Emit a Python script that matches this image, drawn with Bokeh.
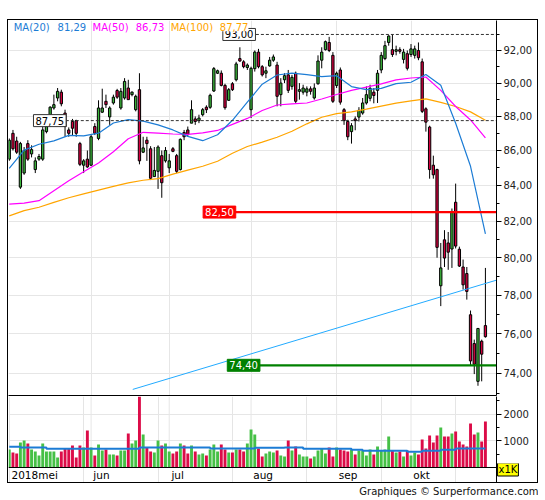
import numpy as np
import pandas as pd
from bokeh.plotting import figure
from bokeh.models import Range1d, FixedTicker, Label, Span, Spacer, ColumnDataSource
from bokeh.layouts import column, row
from bokeh.embed import file_html
from bokeh.resources import INLINE
from bokeh.core.properties import value

# ---------------- data ----------------
dates = pd.bdate_range("2018-05-02", "2018-10-29")
month_labels = ["2018mei", "jun", "jul", "aug", "sep", "okt"]

open_ = [85.5, 87.0, 86.55, 83.9, 84.7, 86.4, 85.8, 84.9, 85.5, 85.5,
         87.1, 88.1, 88.5, 89.1, 89.45, 88.2, 87.2, 87.7, 87.75, 86.4,
         85.15, 85.5, 85.15, 87.4, 86.7, 88.25, 88.9, 87.97, 88.8, 89.55,
         88.5, 89.1, 89.7, 89.3, 88.4, 89.6, 85.9, 86.6, 86.1, 84.5,
         84.8, 85.7, 85.4, 85.0, 86.1, 85.7, 84.9, 87.05, 87.2, 87.6,
         87.85, 87.75, 88.1, 88.55, 88.54, 89.52, 90.6, 90.6, 89.86, 88.96,
         89.96, 90.2, 91.5, 91.3, 90.95, 88.4, 90.88, 91.9, 91.0, 90.6,
         91.05, 91.4, 91.1, 89.3, 90.2, 90.5, 89.8, 90.6, 89.5, 89.45,
         89.45, 89.65, 89.1, 89.96, 91.4, 92.05, 92.5, 91.7, 89.85, 90.8,
         88.4, 87.7, 87.1, 87.85, 87.96, 88.2, 88.8, 89.08, 89.45, 89.56,
         90.8, 91.5, 92.5, 92.05, 91.95, 92.05, 91.45, 91.8, 91.75, 91.7,
         92.0, 91.3, 88.45, 87.37, 85.15, 84.9, 78.5, 80.97, 80.8, 80.47,
         83.05, 80.46, 79.5, 79.15, 76.98, 75.5, 73.6, 75.62, 76.42]
high = [86.7, 87.2, 86.8, 86.5, 86.2, 86.6, 86.3, 85.6, 85.8, 87.4,
        87.96, 88.6, 89.3, 89.7, 89.6, 88.4, 87.35, 87.85, 87.8, 86.5,
        85.5, 86.0, 86.9, 87.6, 88.96, 89.66, 89.3, 88.6, 89.3, 89.65,
        89.7, 90.3, 90.2, 89.5, 89.3, 90.6, 86.8, 86.8, 86.25, 86.2,
        86.3, 86.0, 86.2, 85.8, 86.2, 85.8, 86.7, 87.2, 87.4, 88.96,
        88.0, 88.1, 88.5, 88.66, 89.36, 90.98, 90.82, 90.77, 89.96, 89.7,
        90.06, 91.3, 92.2, 91.4, 91.2, 91.0, 92.0, 92.1, 91.1, 91.0,
        91.6, 91.75, 91.3, 90.3, 90.6, 90.8, 90.5, 90.7, 90.0, 89.9,
        89.8, 89.8, 89.98, 91.7, 92.2, 92.62, 92.85, 91.9, 90.7, 90.95,
        88.5, 87.8, 87.6, 88.0, 88.55, 89.1, 89.8, 89.9, 89.7, 90.8,
        91.9, 92.6, 92.95, 93.0, 92.3, 92.2, 92.1, 92.0, 92.4, 92.3,
        92.5, 91.5, 88.54, 87.45, 85.7, 84.95, 80.8, 81.5, 81.4, 82.7,
        84.1, 80.6, 79.9, 79.5, 77.2, 75.7, 76.3, 75.7, 79.45]
low = [85.4, 86.0, 85.8, 83.8, 84.6, 85.4, 85.6, 84.7, 85.4, 85.4,
       87.0, 87.4, 88.4, 88.9, 88.6, 86.8, 86.8, 86.9, 86.8, 85.1,
       84.7, 85.0, 85.1, 86.9, 86.6, 88.2, 88.5, 87.5, 88.7, 89.05,
       88.4, 89.0, 89.0, 89.2, 88.3, 85.2, 85.85, 85.4, 84.3, 84.5,
       83.8, 83.3, 85.3, 84.7, 85.9, 84.7, 84.85, 86.6, 86.8, 87.6,
       87.5, 87.6, 88.0, 88.2, 88.45, 89.46, 90.55, 89.8, 88.4, 88.92,
       89.52, 90.1, 91.3, 90.9, 90.8, 87.9, 90.7, 90.9, 90.4, 90.3,
       91.0, 91.3, 88.6, 88.6, 90.0, 89.4, 89.6, 88.8, 89.0, 89.3,
       89.2, 89.3, 89.0, 89.9, 90.9, 92.0, 91.9, 88.8, 89.7, 88.7,
       87.5, 86.6, 86.4, 87.18, 87.7, 88.1, 88.7, 88.9, 88.78, 88.8,
       90.6, 91.4, 92.3, 91.6, 91.7, 91.8, 91.2, 90.77, 91.6, 91.5,
       91.4, 88.2, 87.1, 84.38, 84.38, 80.0, 77.43, 79.5, 79.35, 79.45,
       80.5, 79.5, 78.3, 77.77, 74.4, 73.96, 73.38, 73.6, 75.8]
close = [86.6, 86.1, 85.9, 86.4, 86.0, 85.5, 86.05, 85.4, 85.65, 87.2,
         87.4, 88.55, 88.7, 89.5, 88.75, 87.4, 87.0, 87.3, 87.0, 85.2,
         85.4, 85.05, 86.8, 87.0, 88.5, 88.5, 88.7, 88.5, 89.15, 89.15,
         89.5, 90.1, 89.0, 89.45, 89.2, 85.4, 86.15, 86.4, 84.4, 84.85,
         86.2, 84.15, 86.0, 85.4, 85.95, 84.8, 86.65, 86.8, 86.95, 88.4,
         87.7, 87.9, 88.4, 88.4, 89.26, 90.88, 90.75, 89.86, 88.52, 89.6,
         89.6, 91.17, 91.35, 91.0, 91.1, 90.9, 91.9, 91.0, 90.5, 90.75,
         91.4, 91.6, 89.2, 90.0, 90.45, 89.56, 90.35, 88.9, 89.6, 89.7,
         89.65, 89.5, 89.7, 91.35, 91.9, 92.55, 92.0, 88.9, 90.6, 88.85,
         87.75, 86.8, 87.45, 87.75, 88.36, 88.8, 89.3, 89.68, 89.25, 90.6,
         91.7, 92.3, 92.9, 91.75, 92.05, 91.95, 91.9, 90.9, 92.1, 92.1,
         91.55, 88.3, 87.66, 84.9, 84.6, 80.56, 79.45, 79.98, 80.3, 82.5,
         80.63, 79.55, 78.55, 78.2, 74.62, 74.45, 76.27, 74.96, 75.85]
volume = [675, 562, 525, 937, 1012, 900, 675, 600, 450, 900,
          600, 600, 600, 375, 600, 700, 700, 825, 375, 825,
          750, 1387, 750, 450, 862, 637, 675, 487, 487, 450,
          637, 637, 1275, 900, 1012, 2750, 1237, 750, 600, 562,
          1012, 825, 900, 600, 525, 600, 900, 825, 525, 825,
          600, 487, 525, 450, 675, 862, 600, 862, 675, 562,
          562, 675, 675, 600, 900, 1425, 1237, 712, 412, 525,
          600, 562, 637, 450, 412, 1012, 637, 787, 487, 412,
          412, 337, 412, 637, 712, 525, 750, 412, 750, 675,
          637, 600, 675, 487, 637, 637, 450, 675, 487, 787,
          637, 675, 1162, 637, 562, 600, 412, 637, 450, 562,
          487, 1050, 712, 1200, 937, 1200, 1500, 1162, 1162, 1275,
          1350, 975, 862, 787, 1650, 1237, 1312, 975, 1725]

ma_step = 4
ma20 = [84.97, 86.02, 86.36, 86.56, 86.88, 86.85, 87.01, 87.61, 87.81, 87.72,
        87.50, 87.20, 86.82, 86.57, 86.92, 87.77, 88.85, 89.93, 90.49, 90.61,
        90.51, 90.39, 90.45, 89.79, 89.60, 89.68, 89.97, 90.05, 90.52, 89.87,
        87.59, 85.09, 81.29]
ma50 = [82.94, 83.00, 83.14, 83.70, 84.26, 84.78, 85.28, 85.93, 86.68, 87.06,
        87.01, 86.96, 86.94, 87.03, 87.17, 87.53, 87.88, 88.35, 88.68, 88.75,
        88.80, 89.04, 89.31, 89.56, 89.75, 89.95, 90.19, 90.31, 90.37, 89.56,
        88.59, 87.79, 86.73]
ma100 = [82.29, 82.58, 82.77, 83.04, 83.30, 83.52, 83.73, 83.94, 84.14, 84.29,
         84.38, 84.64, 84.87, 85.09, 85.38, 85.84, 86.23, 86.49, 86.77, 87.12,
         87.56, 87.95, 88.16, 88.27, 88.43, 88.61, 88.79, 88.93, 89.05, 88.84,
         88.59, 88.27, 87.77]

vol_ma_idx = [0, 3, 10, 35, 54, 66, 74, 79, 92, 95, 107, 111, 116, 120, 128]
vol_ma = [775, 750, 700, 750, 712, 737, 750, 700, 662, 625, 587, 625, 662, 712, 712]

trend_x = [33.2, 131.0]
trend_y = [73.2, 78.8]

price_ticks = [74, 76, 78, 80, 82, 84, 86, 88, 90, 92]
price_minor = [73, 75, 77, 79, 81, 83, 85, 87, 89, 91, 93]
vol_ticks = [1000, 2000]
vol_minor = [500, 1500, 2500]
vol_unit = "x1K"

level_top = 93.00
level_ref = 87.75
level_res = 82.50
level_sup = 74.40

# ---------------- styles ----------------
FONT = value("DejaVu Sans")
UP, DOWN = "#3cb83c", "#d6003f"
VUP, VDOWN = "#46c046", "#dc0c48"
C20, C50, C100 = "#1c7cd5", "#ff00ff", "#ffa500"
TREND = "#22aaff"
GRID = "#e6e6e6"

def fmt(v):
    return f"{v:.2f}".replace(".", ",")

n = len(close)
idx = np.arange(n)
o, h, l, c = map(np.array, (open_, high, low, close))
up = c >= o
month_starts = [0] + [i for i in range(1, n) if dates[i].month != dates[i - 1].month]
ma_idx = list(range(0, n, ma_step))

x_range = Range1d(-0.2, 130.98)

# ---------------- price panel ----------------
p = figure(frame_width=488, frame_height=375, x_range=x_range,
           y_range=Range1d(72.90, 93.88), y_axis_type="log",
           y_axis_location="right", x_axis_location="below",
           toolbar_location=None, output_backend="svg",
           min_border_left=0, min_border_right=41, min_border_top=0,
           min_border_bottom=1, outline_line_color=None)
p.xaxis.ticker = FixedTicker(ticks=[])
p.xaxis.major_tick_out = 0
p.xaxis.minor_tick_out = 0
p.xaxis.major_label_text_font_size = "0px"
p.xaxis.axis_line_color = "black"
p.xgrid.ticker = FixedTicker(ticks=month_starts[1:])
p.xgrid.grid_line_color = GRID
p.ygrid.grid_line_color = GRID
ya = p.yaxis[0]
ya.ticker = FixedTicker(ticks=price_ticks, minor_ticks=price_minor)
ya.major_label_overrides = {t: fmt(t) for t in price_ticks}
ya.major_label_text_font = "DejaVu Sans"
ya.major_label_text_font_size = "10px"
ya.major_label_text_color = "#222222"
ya.major_label_standoff = 2
ya.major_tick_out = 5
ya.major_tick_in = 0
ya.minor_tick_out = 3
ya.minor_tick_in = 0
ya.axis_line_color = "black"

src = ColumnDataSource(dict(x=idx, top=np.maximum(o, c), bottom=np.minimum(o, c),
                            high=h, low=l, color=np.where(up, UP, DOWN)))
p.segment(x0="x", y0="low", x1="x", y1="high", source=src, line_color="black", line_width=1)
p.vbar(x="x", width=0.62, top="top", bottom="bottom", fill_color="color",
       line_color="black", line_width=1, source=src)

p.line(ma_idx, ma100, line_color=C100, line_width=1.2)
p.line(ma_idx, ma50, line_color=C50, line_width=1.2)
p.line(ma_idx, ma20, line_color=C20, line_width=1.2)
p.line(trend_x, trend_y, line_color=TREND, line_width=1)

XEND = 140
p.line([66.3, XEND], [level_top, level_top], line_color="#333333", line_dash="3 2", line_width=1)
p.line([15.2, XEND], [level_ref, level_ref], line_color="#333333", line_dash="3 2", line_width=1)
p.line([60.3, XEND], [level_res, level_res], line_color="#ff0000", line_width=2.2)
p.line([67.0, XEND], [level_sup, level_sup], line_color="#008000", line_width=2.2)

def box(fig, x, y, text, bg, fg, border):
    fig.add_layout(Label(x=x, y=y, text=text, text_align="center", text_baseline="middle",
                         text_font="DejaVu Sans", text_font_size="10px", text_color=fg,
                         background_fill_color=bg, border_line_color=border,
                         border_line_width=1, padding=2))

box(p, 10.9, level_ref, fmt(level_ref), "white", "black", "#333333")
box(p, 61.8, level_top, fmt(level_top), "white", "black", "#333333")
box(p, 56.5, level_res, fmt(level_res), "#ff0000", "white", "#ff0000")
box(p, 63.0, level_sup, fmt(level_sup), "#008000", "white", "#008000")

legend_items = [(1.2, "MA(20)", C20), (13.0, fmt(ma20[-1]), C20),
                (22.4, "MA(50)", C50), (34.0, fmt(ma50[-1]), C50),
                (43.4, "MA(100)", C100), (56.6, fmt(ma100[-1]), C100)]
for lx, txt, col in legend_items:
    p.add_layout(Label(x=lx, y=93.45, text=txt, text_align="left", text_baseline="middle",
                       text_font="DejaVu Sans", text_font_size="10px", text_color=col,
                       background_fill_color="white"))

# ---------------- volume panel ----------------
v = figure(frame_width=488, frame_height=86, x_range=x_range,
           y_range=Range1d(-562, 2659), y_axis_location="right", x_axis_location=None,
           toolbar_location=None, output_backend="svg",
           min_border_left=0, min_border_right=41, min_border_top=0,
           min_border_bottom=0, outline_line_color=None)
vy = v.yaxis[0]
vy.ticker = FixedTicker(ticks=vol_ticks, minor_ticks=vol_minor)
vy.major_label_text_font = "DejaVu Sans"
vy.major_label_text_font_size = "10px"
vy.major_label_text_color = "#222222"
vy.major_label_standoff = 2
vy.major_tick_out = 5
vy.major_tick_in = 0
vy.minor_tick_out = 3
vy.minor_tick_in = 0
vy.axis_line_color = "black"
v.ygrid.grid_line_color = GRID

v.segment(x0=month_starts[1:], y0=0, x1=month_starts[1:], y1=2659,
          line_color=GRID, line_width=1)
v.vbar(x=idx, width=0.78, top=volume, bottom=0,
       fill_color=list(np.where(up, VUP, VDOWN)), line_color=None)
v.step(vol_ma_idx, vol_ma, mode="after", line_color=C20, line_width=2)
v.add_layout(Span(location=0, dimension="width", line_color="black", line_width=1))
v.text(x=[m + 0.6 for m in month_starts], y=[-281] * len(month_starts), text=month_labels,
       text_align="left", text_baseline="middle", text_font=FONT,
       text_font_size="10.5px", text_color="black")

# ---------------- credit strip (transparent, overlaps bottom of panel) ----------------
cr = figure(width=531, height=34, x_range=Range1d(0, 531), y_range=Range1d(0, 34),
            toolbar_location=None, output_backend="svg", min_border=0,
            outline_line_color=None, x_axis_location=None, y_axis_location=None,
            background_fill_color=None, border_fill_color=None,
            styles={"margin-top": "-20px"})
cr.grid.visible = False
cr.text(x=[531], y=[6], text=["Graphiques \u00a9 Surperformance.com"], text_align="right",
        text_baseline="middle", text_font=FONT, text_font_size="10px", text_color="#111111")
cr.add_layout(Label(x=500.5, y=28, text=vol_unit, text_align="center", text_baseline="middle",
                    text_font="DejaVu Sans", text_font_size="10px", text_color="black",
                    background_fill_color="#ffff00", border_line_color="black",
                    border_line_width=1, padding=1))

panel = column(p, v, styles={"border": "1px solid black"})
layout = row(Spacer(width=7, height=10), column(Spacer(height=19, width=531), panel, cr))

open("out.html", "w").write(file_html(layout, INLINE))
